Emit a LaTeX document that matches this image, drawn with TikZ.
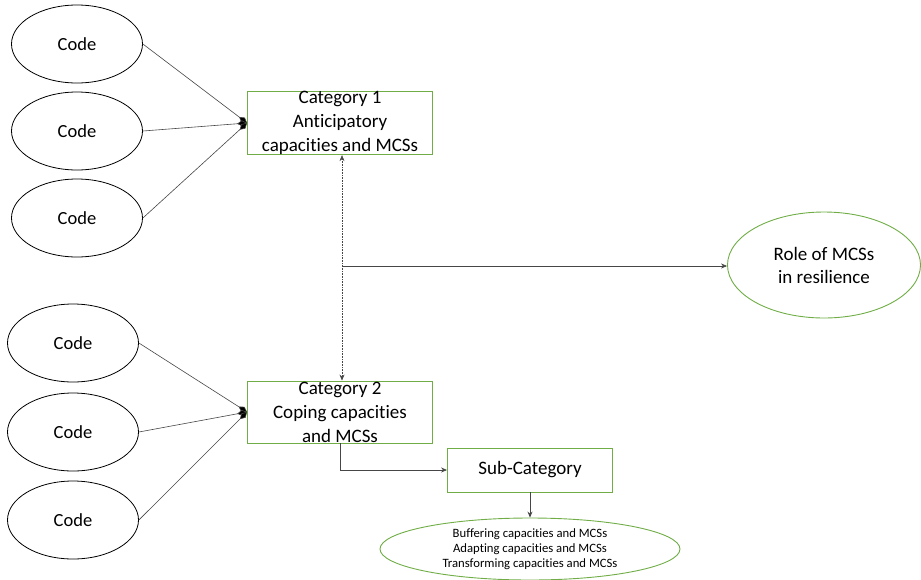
\documentclass[tikz,border=0pt]{standalone}
\usepackage{fontspec}
\setmainfont{Carlito}[Ligatures=NoCommon]
\usetikzlibrary{shapes.geometric}
\usetikzlibrary{arrows.meta}
\usetikzlibrary{positioning}
\definecolor{verde}{RGB}{112,173,71}
\definecolor{gris}{RGB}{70,70,70}
\tikzset{
  flecha/.style={gris, line width=0.7pt, -{Stealth[length=6pt,width=5pt]}},
  rombo/.style={gris, line width=0.6pt, -{Diamond[length=10pt,width=6pt,fill=black]}}
}

\begin{document}
\begin{tikzpicture}[x=1pt,y=-1pt] % Estilos de nodos
\tikzstyle{codigo} = [ellipse, draw, line width=0.8pt, inner sep=0pt, minimum width=131pt, minimum height=78pt, font=\fontsize{18.5}{22}\selectfont]
\tikzstyle{categoria} = [rectangle, draw=verde, line width=0.9pt, align=center, inner sep=0pt, minimum width=185pt, minimum height=62pt, font=\fontsize{19}{24}\selectfont]
\tikzstyle{resultado} = [ellipse, draw=verde, line width=0.9pt, align=center, inner sep=0pt]
\useasboundingbox (0,0) rectangle (921,579);
% Nodos de codigos
\node (c1) [codigo] at (77,44) {Code}; \node (c2) [codigo] at (77,131) {Code}; \node (c3) [codigo] at (77,218) {Code};
\node (c4) [codigo] at (73,343) {Code}; \node (c5) [codigo] at (73,432) {Code}; \node (c6) [codigo] at (73,520) {Code};
% Nodos de categorias
\node (cat1) [categoria] at (340,123) {Category 1\\ Anticipatory\\ capacities and MCSs};
\node (cat2) [categoria] at (340,412) {Category 2\\ Coping capacities\\ and MCSs};
\node (sub) [categoria, minimum width=165pt, minimum height=44pt] at (530,470) {Sub-Category};
% Nodos de resultados
\node (rol) [resultado, minimum width=193pt, minimum height=106pt, font=\fontsize{19}{23}\selectfont] at (824,265) {Role of MCSs\\ in resilience};
\node (tipos) [resultado, minimum width=300pt, minimum height=62pt, font=\fontsize{12.7}{15}\selectfont] at (530,549) {Buffering capacities and MCSs\\ Adapting capacities and MCSs\\ Transforming capacities and MCSs};
\coordinate (medio) at (342,266);
% Flechas de cada codigo a su categoria
\foreach \i in {1,2,3}{ \draw[rombo] (c\i.east) -- (cat1.west); }
\foreach \i in {4,5,6}{ \draw[rombo] (c\i.east) -- (cat2.west); }
\draw[gris, line width=0.6pt, densely dotted, {Stealth[length=6pt,width=5pt]}-{Stealth[length=6pt,width=5pt]}] (cat1.south -| medio) -- (cat2.north -| medio);
\draw[flecha, line width=0.5pt] (medio) -- (medio -| rol.west);
\draw[flecha] (cat2.south) |- (sub.west);
\draw[flecha] (sub.south) -- (tipos.north);
\end{tikzpicture}
\end{document}
